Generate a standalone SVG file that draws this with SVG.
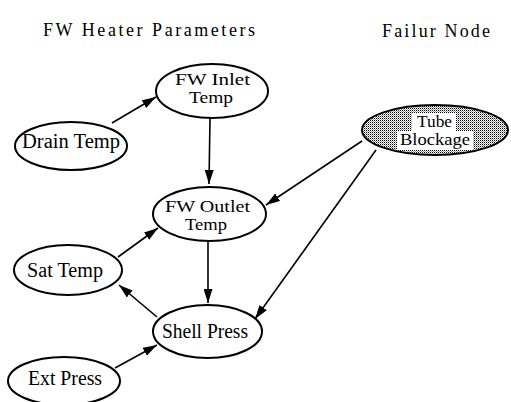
<svg xmlns="http://www.w3.org/2000/svg" width="511" height="402" viewBox="0 0 511 402">
<style>
.title{font-family:"Liberation Serif","Times New Roman",serif;font-size:18px;fill:#000}
.lbl{font-family:"Liberation Serif","Times New Roman",serif;font-size:20px;fill:#000;text-anchor:middle}
.lbl2{font-family:"Liberation Serif","Times New Roman",serif;font-size:17px;fill:#000;text-anchor:middle}
.node{fill:#fff;stroke:#000;stroke-width:2}
.edge{stroke:#000;stroke-width:1.6;fill:none;marker-end:url(#ah)}
</style>
<defs>
<marker id="ah" markerUnits="userSpaceOnUse" markerWidth="15" markerHeight="9" refX="14" refY="4.5" orient="auto">
<path d="M0,0 L14,4.5 L0,9 z" fill="#000"/>
</marker>
<pattern id="dots" width="2" height="2" patternUnits="userSpaceOnUse">
<rect width="2" height="2" fill="#fff"/>
<rect width="1" height="1" fill="#000"/>
<rect x="1" y="1" width="1" height="1" fill="#999"/>
</pattern>
</defs>
<rect width="511" height="402" fill="#fff"/>
<text class="title" x="43" y="36" textLength="212" lengthAdjust="spacing">FW Heater Parameters</text>
<text class="title" x="382" y="37" textLength="108" lengthAdjust="spacing">Failur Node</text>
<g id="connectors">
<line class="edge" x1="112" y1="123" x2="156" y2="97"/>
<line class="edge" x1="210" y1="118" x2="209" y2="184"/>
<line class="edge" x1="362" y1="141" x2="266" y2="205"/>
<line class="edge" x1="376" y1="150" x2="255" y2="319"/>
<line class="edge" x1="208" y1="241" x2="208" y2="303"/>
<line class="edge" x1="118" y1="257" x2="158" y2="228"/>
<line class="edge" x1="157" y1="317" x2="119" y2="285"/>
<line class="edge" x1="115" y1="368" x2="157" y2="345"/>
</g>
<g id="fw-inlet-temp">
<ellipse class="node" cx="212" cy="91" rx="56" ry="27"/>
<text class="lbl2" x="212.5" y="85" textLength="75" lengthAdjust="spacingAndGlyphs">FW Inlet</text>
<text class="lbl2" x="211" y="103" textLength="44" lengthAdjust="spacingAndGlyphs">Temp</text>
</g>
<g id="drain-temp">
<ellipse class="node" cx="71" cy="146" rx="56" ry="24"/>
<text class="lbl" x="71" y="148" textLength="98" lengthAdjust="spacingAndGlyphs">Drain Temp</text>
</g>
<g id="tube-blockage">
<ellipse cx="435" cy="130" rx="73" ry="25" fill="url(#dots)" stroke="#000" stroke-width="2"/>
<rect x="412" y="113" width="44" height="18" fill="#fff"/>
<rect x="397" y="131" width="76" height="19" fill="#fff"/>
<text class="lbl2" x="434.5" y="127" textLength="35" lengthAdjust="spacingAndGlyphs">Tube</text>
<text class="lbl2" x="435" y="145" textLength="70" lengthAdjust="spacingAndGlyphs">Blockage</text>
</g>
<g id="fw-outlet-temp">
<ellipse class="node" cx="209.5" cy="214" rx="56.5" ry="27"/>
<text class="lbl2" x="207.5" y="212" textLength="85" lengthAdjust="spacingAndGlyphs">FW Outlet</text>
<text class="lbl2" x="206" y="230" textLength="42" lengthAdjust="spacingAndGlyphs">Temp</text>
</g>
<g id="sat-temp">
<ellipse class="node" cx="68" cy="270" rx="54" ry="25"/>
<text class="lbl" x="65" y="277" textLength="76" lengthAdjust="spacingAndGlyphs">Sat Temp</text>
</g>
<g id="shell-press">
<ellipse class="node" cx="207.5" cy="331.5" rx="54.5" ry="26.5"/>
<text class="lbl" x="205" y="338" textLength="86" lengthAdjust="spacingAndGlyphs">Shell Press</text>
</g>
<g id="ext-press">
<ellipse class="node" cx="64" cy="381" rx="56" ry="24"/>
<text class="lbl" x="65" y="385" textLength="74" lengthAdjust="spacingAndGlyphs">Ext Press</text>
</g>
</svg>
